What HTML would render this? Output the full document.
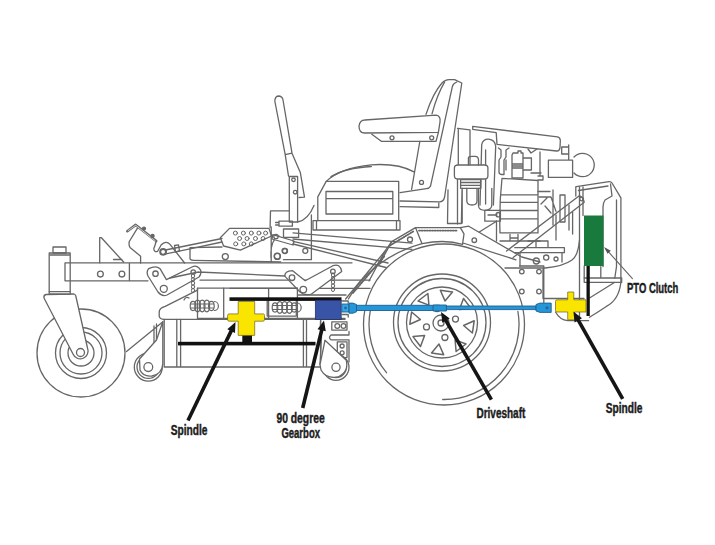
<!DOCTYPE html>
<html><head><meta charset="utf-8"><style>
html,body{margin:0;padding:0;background:#fff;width:715px;height:545px;overflow:hidden}
svg{display:block}
.lb{font-family:"Liberation Sans",sans-serif;font-weight:bold;fill:#1c1c1c;font-size:14px;stroke:#1c1c1c;stroke-width:0.45px}
</style></head><body>
<svg width="715" height="545" viewBox="0 0 715 545">
<rect width="715" height="545" fill="#fff"/>
<g fill="none" stroke="#666" stroke-width="1.3" stroke-linejoin="round" stroke-linecap="round">
  <circle cx="81" cy="353" r="44"/>
  <circle cx="81" cy="353" r="25.5"/>
  <circle cx="81" cy="353" r="21"/>
  <circle cx="81" cy="353" r="13"/>
  <path d="M46 294.5 L74 294 Q75.5 294.5 75.8 296 L87.5 348 A7.5 7.5 0 0 1 73 354 L44 298 Q43.5 295 46 294.5 Z" fill="#fff"/>
  <circle cx="80.5" cy="352.5" r="4"/>
  <rect x="49.2" y="253" width="21" height="41" fill="#fff"/>
  <path d="M49.2 291.6 H70.2 M50 255 H69.5"/>
  <rect x="53" y="247" width="13" height="6"/>
  <path d="M65 262.8 H352 M65 280.8 H148 M65 262.8 V280.8 M129.4 262.8 V280.8"/>
  <circle cx="100.4" cy="274.1" r="2.9"/><circle cx="121.9" cy="274.1" r="2.9"/>
  <path d="M99.7 262.8 V237.7 L101.4 237.7 L123.6 262 M113.5 259.5 H121.9"/>
  <path d="M137.6 227.8 L129.3 241.5 Q128.5 245 130 247.4 L140.6 256.2 V263"/>
  <path d="M127.3 231.2 L135.7 224.9 L156.2 241" stroke-width="2.6"/>
  <path d="M128.2 230.6 L135.7 225.3 L155.5 241" stroke="#fff" stroke-width="0.7"/>
  <circle cx="144" cy="228.6" r="1.5" fill="#666"/><circle cx="152.6" cy="236" r="1.5" fill="#666"/>
  <path d="M156.2 241 Q155 246 153.8 248.5 Q154 252.5 157.5 251.5 L161.1 245 Q166 240 170 244.4 L184.6 263"/>
  <circle cx="163.1" cy="251.8" r="2.9" stroke-width="2"/>
  <path d="M165.5 250 L222 238.5 M166 253.8 L190 248.8 L222 242"/>
  <path d="M174.5 245.5 L178.5 244.8 L179.5 251 L175.5 251.8 Z"/>
  <path d="M148.7 268.7 Q146 272 148 276 L158 292 Q162 297 167 295 L199 277 Q203 272 199 268 Q196 265 192 267 L166.4 279.6 L160 268.7 Q156 265 148.7 268.7 Z" fill="#fff"/>
  <circle cx="155.5" cy="273.7" r="2.7"/><circle cx="163.8" cy="288.8" r="3.5"/><circle cx="193.2" cy="272" r="2.2"/>
  <g stroke-width="1"><ellipse cx="193" cy="276" rx="1.6" ry="2.2"/><ellipse cx="193" cy="279.6" rx="1.6" ry="2.2"/><ellipse cx="193" cy="283.2" rx="1.6" ry="2.2"/><ellipse cx="193" cy="286.8" rx="1.6" ry="2.2"/><ellipse cx="193" cy="290.4" rx="1.6" ry="2.2"/></g>
  <path d="M170 278 L198.5 272 M198.5 272 L285 276 M200 280.2 L370 280.2 M230 288.4 L370 288.4"/>
  <path d="M285 276.4 Q284 271 292.6 270.7 L305.2 280.8 L332.9 265.7 Q340 263 341.7 271.4 L311.5 294 Q305 296 300 292 Z" fill="#fff"/>
  <circle cx="292" cy="277.7" r="2.8"/><circle cx="303.3" cy="289.6" r="3.3"/><circle cx="332.9" cy="271.4" r="2.3"/>
  <g stroke-width="1"><ellipse cx="333" cy="275" rx="1.6" ry="2.2"/><ellipse cx="333" cy="278.6" rx="1.6" ry="2.2"/><ellipse cx="333" cy="282.2" rx="1.6" ry="2.2"/><ellipse cx="333" cy="285.8" rx="1.6" ry="2.2"/><ellipse cx="333" cy="289.4" rx="1.6" ry="2.2"/></g>
  <path d="M229.5 228.4 H269 L271.5 236 L240.4 250.2 L223.6 246 L220.3 237.7 Z"/>
  <g stroke-width="1"><circle cx="235.4" cy="233.1" r="2"/><circle cx="243.4" cy="233.1" r="2"/><circle cx="251.3" cy="233.1" r="2"/><circle cx="258.9" cy="233.1" r="2"/><circle cx="265.6" cy="233.1" r="2"/><circle cx="239.6" cy="238.5" r="2"/><circle cx="247.1" cy="238.5" r="2"/><circle cx="255.5" cy="238.5" r="2"/><circle cx="263.1" cy="238.5" r="2"/><circle cx="235.7" cy="243.9" r="2"/><circle cx="243.8" cy="243.9" r="2"/><circle cx="251.3" cy="243.9" r="2"/></g>
  <path d="M222 247 L190 247.7 V258.6 Q190 260.3 193.4 260.3 L280.7 262"/>
  <circle cx="225.3" cy="256.6" r="3"/><circle cx="277.3" cy="256.1" r="3"/><circle cx="285" cy="251" r="2.5"/>
  <path d="M274.8 101 Q275 96 279 96 Q282.5 96.5 283 100 L292 153.2 L300.3 172.4 L304.5 197.1 L299 197.5 M274.8 101 L285.2 154.6 L288.5 176 M285.2 154.6 L292 153.2"/>
  <path d="M289.3 176.5 H297.6 V222 H289.3 Z" fill="#fff"/>
  <circle cx="293.5" cy="179.8" r="1.8"/><circle cx="295.2" cy="192.2" r="1.8"/>
  <path d="M270.1 227.4 L270.5 210.9 H289.3"/>
  <path d="M314 205.4 Q308 220 297.6 222"/>
  <path d="M279 221.2 H292.4 V226.2 H279 Z M275.6 222.5 H279 V225 H275.6"/>
  <path d="M283.5 229 H298.6 V237.4 H283.5 Z"/>
  <path d="M271.2 262 V227 M283.5 259.7 H311.4 V215 M271 258 Q270 240 279 236"/>
  <circle cx="305.3" cy="250.8" r="2.5"/><circle cx="284.6" cy="250.8" r="2.5"/><circle cx="277.3" cy="256.4" r="3"/>
  <path d="M293 232.9 L412 243.2 M293 239 L412 249.3"/>
  <path d="M272.8 234.6 L294 241 L293 245 L272 239 Z" fill="#fff"/>
  <circle cx="276" cy="236.5" r="2.2"/>
  <path d="M293 241.3 L388 263 M293 244 L386 267.5"/>
  <path d="M317.8 220.6 V196.9 L326.2 181.4 H398.7 V220.6"/>
  <path d="M326 191.5 H392.8 V214 H326 Z M326 198.6 H392.8"/>
  <path d="M313 220.6 H400 V230 H313 Z M316.5 220.6 V230 M396.5 220.6 V230"/>
  <path d="M326.2 181.4 Q340 168 371.3 164.8 Q398 163 414 171.9"/>
  <path d="M331 176.6 Q345 168 371.3 166.5"/>
  <path d="M426 114.4 Q433 93 442 83 Q445 79.7 449 79.7 L454.6 79.7 L461.8 83 L444.6 197 Q443.5 201.8 439.6 201.8 L400 201"/>
  <path d="M432 113.8 Q437 95 444.7 81.9"/>
  <path d="M456.8 82 Q453 83.5 452.4 86.3 L430.5 186.1 Q429 188.6 426.4 188.6 L400 192.7 M419.8 141.5 L411.6 189.4 M400 206.7 L438.8 207.5 V203"/>
  <circle cx="421.5" cy="182.4" r="2"/>
  <path d="M364.7 120 L436 115.2 Q441 116 440 122 L438.4 132.3 L364.7 133 Q359 133 359 126 Q360 120 364.7 120 Z" fill="#fff"/>
  <path d="M371.8 134.2 L381.3 141.3 H436 L438.4 132.3"/>
  <circle cx="392" cy="137.8" r="2"/><circle cx="431.7" cy="137.8" r="2"/>
  <path d="M457.5 128.3 L470 129.8 M458.3 128.3 V166 M470 129.8 V165 M457.5 179 V224"/>
  <path d="M472.7 126.4 L557.4 136.8 Q560.5 137.5 560.3 141 L560 147.7 Q559.5 151.3 556.5 151 L497 144.4 L496.2 132.6 L472.7 129.3 Z" fill="#fff"/>
  <path d="M480 205 L481.7 144.6 Q483 139 488.7 139.2 Q495 140 495.7 146.2 L493.4 205 M485.6 150 V204"/>
  <path d="M454.4 168 Q454.4 165 458 165 H484.5 Q487.9 165 487.9 168 V176 Q487.9 179 484.5 179 H458 Q454.4 179 454.4 176 Z" fill="#fff"/>
  <path d="M468.4 165 V158 Q468.4 156.3 472 156.3 H475 Q478.5 156.3 478.5 160 V165"/>
  <path d="M460.6 179.7 H480.9 V188.3 H460.6 Z M460.6 182.5 H480.9 M460.6 185.4 H480.9"/>
  <path d="M448 190 L447.5 223.5 H461.4 L462 190 M462.2 188.3 V223"/>
  <path d="M466.8 188.3 V201 Q467 205 472 205 Q477 205 477 201 V188.3"/>
  <path d="M478.5 188.3 V206 Q479 210.3 485 210.3 Q491.8 210 491.8 205 V188.3"/>
  <path d="M484.8 210.3 H500.4 V221.2 H484.8 Z M488 215 H497"/>
  <path d="M498.5 148 L501 150 V157 L499 160 V172 Q499 174.5 502 174.5 H504 V160 L506 157 V150 L509 148 M506 160 V170"/>
  <path d="M513 153 H518 V151 H521 V153 H523 V178 H512 V155 Z M512 164 H523 M512 166 H523 M512 168 H523"/>
  <path d="M523.3 158 H531.4 V170 H523.3"/>
  <path d="M528 149 L531 153 L537 149 M540 152 V176 M538 176 H543 V180 H538 M531 173 H541"/>
  <path d="M548.4 160.2 H572.6 V177.4 H548.4 Z M561.7 147 H568.7 V154 H561.7 Z M568.7 145 V160"/>
  <path d="M574 157 A11.7 11.7 0 1 1 574 173"/>
  <path d="M502 178.3 L538 180.5 V232.9 H500 Q499 206 502 178.3 Z M500.5 194.8 H538 M500 202.3 H538 M500 210.5 H538 M500 218.8 H538"/>
  <path d="M510 234.5 V241 M518 234.5 V241 M510 238 H518 M500 241 H540"/>
  <circle cx="498.3" cy="214.7" r="2.2"/>
  <path d="M538 191.5 H550 M539 197 H551 L556 211.4 M541 204 L547 198 M545 206 L551 213 M553 190 V225 M556 215 V240"/>
  <path d="M560 195 V222 H565 V195 Z M569 205 V230 M572.6 212 V234"/>
  <path d="M579.3 195.7 L506.5 251 M584.2 202.3 L513.1 257.6 M579.3 195.7 Q583 197 584.2 202.3"/>
  <circle cx="581.5" cy="199" r="1.8"/>
  <path d="M479.3 232 L496.5 221.2 M496.5 221 V241"/>
  <path d="M579.5 240 Q578 256 572 260 Q563 266.5 545 268 H505"/>
  <path d="M514.8 247.7 H564.4 V252.7 H514.8 M528 241 H548 V247.7 M536 241 V247.7"/>
  <circle cx="536.3" cy="261" r="3"/><circle cx="546.2" cy="257.6" r="2.6"/><circle cx="556" cy="259" r="2"/>
  <path d="M520 253 V266 M562 253 V262"/>
  <path d="M345.6 299 L384.8 251.4 L391.7 241.6 L415.5 227.6 H460.3 L468.7 226.2 L521.8 257 L540 262"/>
  <path d="M419 230.6 H458 M390 245.5 L413.5 231.3 M353 293 L385 255.5" stroke-width="1.8" stroke-dasharray="1.1 1.5"/>
  <path d="M415.5 227.6 L422 243.7 M460.3 227.6 L464 233.9 L462.5 244.4 M463 243 L516 259.8"/>
  <path d="M348.4 299 Q372 258 422 243.7 Q445 239 462.5 244.4"/>
  <circle cx="410" cy="239.5" r="2.5"/><circle cx="474.3" cy="240.2" r="2.3"/>
  <path d="M380 263.3 L391.7 241.6 M369 281 L384.8 251.4"/>
  <circle cx="444" cy="324.5" r="80.5"/>
  <path d="M370.4 310.2 A75.0 75.0 0 0 0 386.5 372.7 M442.7 399.5 A75.0 75.0 0 0 0 517.9 311.5"/>
  <circle cx="442" cy="322.5" r="48.5"/><circle cx="442" cy="322.5" r="44"/><circle cx="442" cy="322.5" r="35.5"/>
  <circle cx="441" cy="323" r="8"/><circle cx="441" cy="323" r="3"/>
  <path d="M463.6 325.5 L474.2 320.8 L472.4 333 Z" stroke-width="1.5"/>
  <path d="M455.1 339.9 L466 344 L456.1 351.5 Z" stroke-width="1.5"/>
  <path d="M439 344.1 L443.7 354.7 L431.5 352.9 Z" stroke-width="1.5"/>
  <path d="M424.6 335.6 L420.5 346.5 L413 336.6 Z" stroke-width="1.5"/>
  <path d="M420.4 319.5 L409.8 324.2 L411.6 312 Z" stroke-width="1.5"/>
  <path d="M428.9 305.1 L418 301 L427.9 293.5 Z" stroke-width="1.5"/>
  <path d="M445 300.9 L440.3 290.3 L452.5 292.1 Z" stroke-width="1.5"/>
  <path d="M459.4 309.4 L463.5 298.5 L471 308.4 Z" stroke-width="1.5"/>
  <circle cx="455.5" cy="319.1" r="3"/>
  <circle cx="444.9" cy="337.5" r="3"/>
  <circle cx="426.5" cy="326.9" r="3"/>
  <circle cx="437.1" cy="308.5" r="3"/>
  <path d="M519.6 266 H543.8 V302.5 M543 269 V298.5 H584"/>
  <circle cx="521.8" cy="271.6" r="2.3"/><circle cx="539" cy="271.6" r="2.3"/><circle cx="521.8" cy="291.5" r="2.3"/><circle cx="539" cy="291.5" r="2.3"/>
  <path d="M576.2 186.7 L609 181.7 Q611 181.5 612 183 L620.9 197.9 V282.3 Q619 300 606 306.7 Q598 312 589.5 317.2 M578.4 190.5 L608 186"/>
  <path d="M575.8 187 V196 M579.5 187 V317.2 M583 187 V215.5 M584.2 266 V278"/>
  <path d="M610.5 184 L612 196 L605 200 Q603 203 603 207 V266.6 M616.5 200 V266.6 L614.8 278"/>
  <path d="M584.2 278 H621.7 V282.3 H584.2 Z M614.8 282.3 L589.5 298 M600.8 266.6 V278"/>
  <path d="M555.5 312 Q560 320 567.7 320.7 H588.6"/>
  <path d="M605.5 248.5 L632.4 278.6" stroke-width="1.1"/>
  <path d="M604 247 L610.8 250.8 L607.6 253.8 Z" fill="#555" stroke="none"/>
  <path d="M159.2 312.4 Q159 308 165.2 306.3 L197.5 290.2 V288.2 H297.4 M159.2 312.4 V316.4 Q160 319.4 164.2 319.4 H345"/>
  <path d="M297.4 295 H346 M342.3 301 H348.2 V303 M342.3 314.5 H348.2 V317 M197.5 288.2 V318.4 H345 M223.7 288.2 V318.4 M268.6 289 V319.3 M297.4 288.2 V319.3"/>
  <path d="M164.2 319.4 V367 H320.6 V320.3 M176.8 319.4 V367 M180.6 319.4 V367 M303.4 320.3 V367 M306.5 320.3 V367"/>
  <path d="M126.5 351.5 L162.9 321.8 M154 326 V345 M156.5 324 V345"/>
  <circle cx="148.3" cy="367.1" r="14" fill="#fff"/><circle cx="148.3" cy="367.1" r="11.3"/>
  <path d="M162.8 321.8 V364 Q162 374 152 376 Q143 377 140 370 L139.5 359 L156.5 340 Z" fill="#fff"/>
  <circle cx="148.3" cy="367.1" r="4.4"/>
  <path d="M320.6 320.3 Q320 330 321.5 337 L320 364.5 M325 340.4 L346.3 360.4 M331 335 Q328 337.5 331 339.8 H349 V362 M331 335 H349 V331.5"/>
  <path d="M331.8 321.9 H347 V330.1 H331.8 Z"/>
  <circle cx="337.3" cy="326" r="2.4"/><circle cx="343.5" cy="326" r="2.4"/>
  <path d="M337.3 341.8 H347 V357.6 H337.3 Z"/>
  <circle cx="342.1" cy="346" r="2"/><circle cx="342.1" cy="352.8" r="2"/>
  <circle cx="336" cy="367.3" r="13"/><circle cx="336" cy="367.3" r="10.3"/>
  <path d="M346.3 360.4 Q349 372 338 377 Q326 379 321 370 L320 364.5 L325 340.4 Z" fill="#fff"/>
  <circle cx="336" cy="367.3" r="4.1"/>
  <g stroke-width="1.2"><ellipse cx="193" cy="306" rx="2.8" ry="4.6"/><ellipse cx="197.6" cy="306" rx="2.8" ry="5.8"/><ellipse cx="202.2" cy="306" rx="2.8" ry="5.8"/><ellipse cx="206.8" cy="306" rx="2.8" ry="5.8"/><ellipse cx="211.4" cy="306" rx="2.8" ry="4.6"/><path d="M191 304 H213.4 M191 308 H213.4"/><path d="M214.4 301.5 A4 4.5 0 0 1 214.4 310.5"/></g>
  <g stroke-width="1.2"><ellipse cx="275" cy="307.5" rx="2.8" ry="4.6"/><ellipse cx="279.8" cy="307.5" rx="2.8" ry="5.8"/><ellipse cx="284.6" cy="307.5" rx="2.8" ry="5.8"/><ellipse cx="289.4" cy="307.5" rx="2.8" ry="5.8"/><ellipse cx="294.2" cy="307.5" rx="2.8" ry="4.6"/><path d="M273 305.5 H296.2 M273 309.5 H296.2"/><path d="M297.2 303 A4 4.5 0 0 1 297.2 312"/></g>
  <path d="M189 298 Q186 296 184 300 M267.2 300.7 V316.1 H296.3 V300.7"/>
</g>
<g>
  <rect x="229.5" y="297.3" width="112" height="3.6" fill="#111"/>
  <rect x="178" y="341.8" width="137.5" height="3.6" fill="#111"/>
  <rect x="242.3" y="335" width="9.7" height="7.5" fill="#111"/>
  <path d="M238.2 301.5 H254.7 V313.9 H263.5 Q264.5 314 264.5 315.5 V319.5 Q264.5 321.2 263 321.2 H254.7 V335.4 H238.2 V321.2 H229 Q227.6 321.2 227.6 319.5 V315.5 Q227.6 313.9 229 313.9 H238.2 Z" fill="#fae500" stroke="#6a6220" stroke-width="0.7"/>
  <rect x="315.3" y="300.2" width="25.9" height="19.2" fill="#3954a6" stroke="#1e2a5a" stroke-width="0.7"/>
  <rect x="584" y="215.5" width="19.5" height="50.5" fill="#187a3c"/>
  <rect x="586.5" y="266" width="3.3" height="50" fill="#111"/>
  <path d="M567.7 292 H573.8 V299.8 H586 V312 H574.7 V319.8 H567.7 V312 H557 Q555.5 312 555.5 310.5 V301.3 Q555.5 299.8 557 299.8 H567.7 Z" fill="#fae500" stroke="#6a6220" stroke-width="0.7"/>
  <g stroke="#1f5f8e" stroke-width="0.9" fill="#2596d8">
  <path d="M356.5 305.3 H440 V310.5 H356.5 Z"/>
  <path d="M440 306 H536 V309.6 H440 Z"/>
  <path d="M433 305 H446.4 V311 H433 Z"/>
  <path d="M341.8 304 H349 V312 H341.8 Z" fill="#3aa6e6"/>
  <path d="M349 303.1 H353 L356.5 304.5 V311.8 L353 313.2 H349 Z"/>
  <path d="M536 304.5 L540 303.1 H551.2 V312.4 H540 L536 311 Z"/>
  <circle cx="345.5" cy="308" r="1.4" fill="#1d6aa3" stroke="none"/>
  <circle cx="547" cy="307.8" r="1.6" fill="#1d6aa3" stroke="none"/>
  </g>
</g>
<g stroke="#151515" fill="#151515">
  <line x1="188" y1="420.5" x2="231.6" y2="330.1" stroke-width="3.6"/><path d="M235.5 322 L235 332.9 L227.3 329.2 Z" stroke="none"/>
  <line x1="302.7" y1="408" x2="321.9" y2="329.2" stroke-width="3.6"/><path d="M324 320.5 L325.8 331.2 L317.5 329.2 Z" stroke="none"/>
  <line x1="491.4" y1="399.7" x2="445.5" y2="319.8" stroke-width="3.6"/><path d="M441 312 L449.7 318.6 L442.3 322.8 Z" stroke="none"/>
  <line x1="622.7" y1="398.9" x2="577.8" y2="319.4" stroke-width="3.6"/><path d="M573.4 311.6 L582 318.2 L574.6 322.4 Z" stroke="none"/>
</g>
<g class="lb">
  <text x="170.7" y="435.1" textLength="36.8" lengthAdjust="spacingAndGlyphs">Spindle</text>
  <text x="276.4" y="423.2" textLength="48.3" lengthAdjust="spacingAndGlyphs">90 degree</text>
  <text x="281.4" y="437.9" textLength="38.6" lengthAdjust="spacingAndGlyphs">Gearbox</text>
  <text x="476.5" y="417.6" textLength="48.8" lengthAdjust="spacingAndGlyphs">Driveshaft</text>
  <text x="605.8" y="413.2" textLength="36.7" lengthAdjust="spacingAndGlyphs">Spindle</text>
  <text x="627" y="293.4" textLength="51.3" lengthAdjust="spacingAndGlyphs">PTO Clutch</text>
</g>
</svg>
</body></html>
